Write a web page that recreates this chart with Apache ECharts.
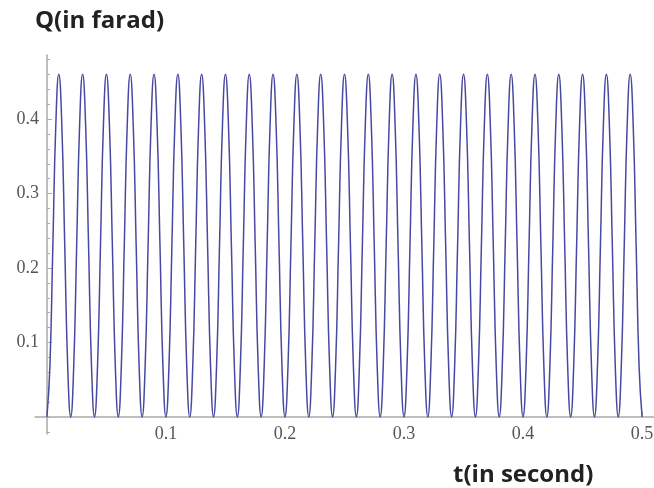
<!DOCTYPE html>
<html>
<head>
<meta charset="utf-8">
<script src="https://cdn.jsdelivr.net/npm/echarts@6/dist/echarts.min.js"></script>
<style>html,body{margin:0;padding:0;background:#fff;}#c{width:654px;height:488px;}</style>
</head>
<body>
<div id="c"></div>
<script>
// sample times (s)
const tValues = [
  0,0.0025,0.005,0.0075,0.01,0.0125,0.015,0.0175,
  0.02,0.0225,0.025,0.0275,0.03,0.0325,0.035,0.0375,
  0.04,0.0425,0.045,0.0475,0.05,0.0525,0.055,0.0575,
  0.06,0.0625,0.065,0.0675,0.07,0.0725,0.075,0.0775,
  0.08,0.0825,0.085,0.0875,0.09,0.0925,0.095,0.0975,
  0.1,0.1025,0.105,0.1075,0.11,0.1125,0.115,0.1175,
  0.12,0.1225,0.125,0.1275,0.13,0.1325,0.135,0.1375,
  0.14,0.1425,0.145,0.1475,0.15,0.1525,0.155,0.1575,
  0.16,0.1625,0.165,0.1675,0.17,0.1725,0.175,0.1775,
  0.18,0.1825,0.185,0.1875,0.19,0.1925,0.195,0.1975,
  0.2,0.2025,0.205,0.2075,0.21,0.2125,0.215,0.2175,
  0.22,0.2225,0.225,0.2275,0.23,0.2325,0.235,0.2375,
  0.24,0.2425,0.245,0.2475,0.25,0.2525,0.255,0.2575,
  0.26,0.2625,0.265,0.2675,0.27,0.2725,0.275,0.2775,
  0.28,0.2825,0.285,0.2875,0.29,0.2925,0.295,0.2975,
  0.3,0.3025,0.305,0.3075,0.31,0.3125,0.315,0.3175,
  0.32,0.3225,0.325,0.3275,0.33,0.3325,0.335,0.3375,
  0.34,0.3425,0.345,0.3475,0.35,0.3525,0.355,0.3575,
  0.36,0.3625,0.365,0.3675,0.37,0.3725,0.375,0.3775,
  0.38,0.3825,0.385,0.3875,0.39,0.3925,0.395,0.3975,
  0.4,0.4025,0.405,0.4075,0.41,0.4125,0.415,0.4175,
  0.42,0.4225,0.425,0.4275,0.43,0.4325,0.435,0.4375,
  0.44,0.4425,0.445,0.4475,0.45,0.4525,0.455,0.4575,
  0.46,0.4625,0.465,0.4675,0.47,0.4725,0.475,0.4775,
  0.48,0.4825,0.485,0.4875,0.49,0.4925,0.495,0.4975,
  0.5
];
// charge Q (farad)
const qValues = [
  0,0.067,0.23,0.393,0.46,0.393,0.23,0.067,
  0,0.067,0.23,0.393,0.46,0.393,0.23,0.067,
  0,0.067,0.23,0.393,0.46,0.393,0.23,0.067,
  0,0.067,0.23,0.393,0.46,0.393,0.23,0.067,
  0,0.067,0.23,0.393,0.46,0.393,0.23,0.067,
  0,0.067,0.23,0.393,0.46,0.393,0.23,0.067,
  0,0.067,0.23,0.393,0.46,0.393,0.23,0.067,
  0,0.067,0.23,0.393,0.46,0.393,0.23,0.067,
  0,0.067,0.23,0.393,0.46,0.393,0.23,0.067,
  0,0.067,0.23,0.393,0.46,0.393,0.23,0.067,
  0,0.067,0.23,0.393,0.46,0.393,0.23,0.067,
  0,0.067,0.23,0.393,0.46,0.393,0.23,0.067,
  0,0.067,0.23,0.393,0.46,0.393,0.23,0.067,
  0,0.067,0.23,0.393,0.46,0.393,0.23,0.067,
  0,0.067,0.23,0.393,0.46,0.393,0.23,0.067,
  0,0.067,0.23,0.393,0.46,0.393,0.23,0.067,
  0,0.067,0.23,0.393,0.46,0.393,0.23,0.067,
  0,0.067,0.23,0.393,0.46,0.393,0.23,0.067,
  0,0.067,0.23,0.393,0.46,0.393,0.23,0.067,
  0,0.067,0.23,0.393,0.46,0.393,0.23,0.067,
  0,0.067,0.23,0.393,0.46,0.393,0.23,0.067,
  0,0.067,0.23,0.393,0.46,0.393,0.23,0.067,
  0,0.067,0.23,0.393,0.46,0.393,0.23,0.067,
  0,0.067,0.23,0.393,0.46,0.393,0.23,0.067,
  0,0.067,0.23,0.393,0.46,0.393,0.23,0.067,
  0
];
const xTickLabels = [0.1, 0.2, 0.3, 0.4, 0.5];
const yTickLabels = [0.1, 0.2, 0.3, 0.4];
const yMinorTicks = [-0.02,0,0.02,0.04,0.06,0.08,0.12,0.14,0.16,0.18,0.22,0.24,0.26,0.28,0.32,0.34,0.36,0.38,0.42,0.44,0.46,0.48];
const xMinorTicks = [0.02,0.04,0.06,0.08,0.12,0.14,0.16,0.18,0.22,0.24,0.26,0.28,0.32,0.34,0.36,0.38,0.42,0.44,0.46,0.48];
const yTitle = 'Q(in farad)';
const xTitle = 't(in second)';

const axisColor = '#aaaaaa';
const labelStyle = { color: '#555555', fontFamily: 'Liberation Serif', fontSize: 18 };
const fmt = v => String(v);

const chart = echarts.init(document.getElementById('c'), null, { renderer: 'canvas' });
chart.setOption({
  animation: false,
  backgroundColor: '#ffffff',
  grid: { left: 35, right: 0, top: 55, bottom: 54, containLabel: false, outerBoundsMode: 'none' },
  xAxis: [
    {
      type: 'value', min: -0.01, max: 0.51,
      axisLine: { show: true, onZero: true, lineStyle: { color: axisColor, width: 1.5 } },
      axisTick: { show: true, inside: true, length: 5, customValues: xTickLabels, lineStyle: { color: axisColor } },
      axisLabel: { customValues: xTickLabels, margin: -9, formatter: fmt, ...labelStyle },
      splitLine: { show: false }
    },
    {
      type: 'value', min: -0.01, max: 0.51, position: 'bottom',
      axisLine: { show: false, onZero: true, onZeroAxisIndex: 0 },
      axisTick: { show: true, inside: true, length: 3, customValues: xMinorTicks, lineStyle: { color: axisColor } },
      axisLabel: { show: false },
      splitLine: { show: false }
    }
  ],
  yAxis: [
    {
      type: 'value', min: -0.0228, max: 0.486,
      axisLine: { show: true, onZero: true, lineStyle: { color: axisColor, width: 1.5 } },
      axisTick: { show: true, inside: true, length: 5, customValues: yTickLabels, lineStyle: { color: axisColor } },
      axisLabel: { customValues: yTickLabels, margin: -4, formatter: fmt, ...labelStyle },
      splitLine: { show: false }
    },
    {
      type: 'value', min: -0.0228, max: 0.486, position: 'left',
      axisLine: { show: false, onZero: true, onZeroAxisIndex: 0 },
      axisTick: { show: true, inside: true, length: 3, customValues: yMinorTicks, lineStyle: { color: axisColor } },
      axisLabel: { show: false },
      splitLine: { show: false }
    }
  ],
  series: [{
    type: 'line',
    xAxisIndex: 0, yAxisIndex: 0,
    data: tValues.map((t, i) => [t, qValues[i]]),
    smooth: 0.5,
    showSymbol: false,
    lineStyle: { color: '#4848a2', width: 1.5 }
  }],
  graphic: [
    { type: 'text', x: 35, y: 21, style: { text: yTitle, font: 'bold 24px "Open Sans"', fill: '#222222', verticalAlign: 'middle' } },
    { type: 'text', x: 453, y: 475, style: { text: xTitle, font: 'bold 24px "Open Sans"', fill: '#222222', verticalAlign: 'middle' } }
  ]
});
</script>
</body>
</html>
